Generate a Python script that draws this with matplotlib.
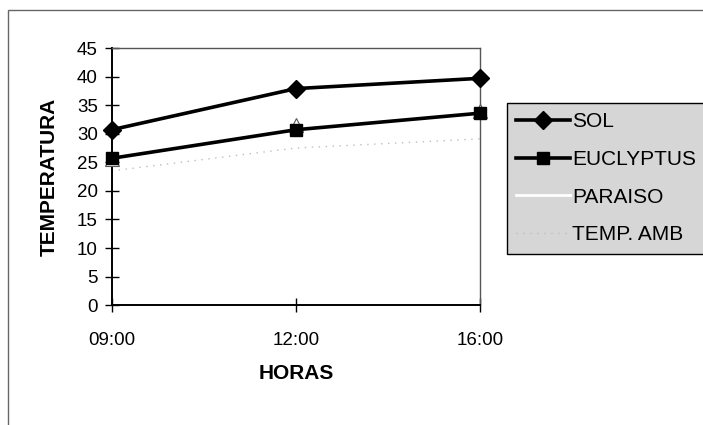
import matplotlib.pyplot as plt
from matplotlib.lines import Line2D

# data
horas = ['09:00', '12:00', '16:00']
sol = [30.7, 37.9, 39.7]
euclyptus = [25.7, 30.7, 33.6]
paraiso = [25.5, 31.6, 34.0]
temp_amb = [23.5, 27.5, 29.1]

plt.rcParams['font.family'] = ['Liberation Sans', 'DejaVu Sans']

fig = plt.figure(figsize=(7.03, 4.25), dpi=100)
ax = fig.add_axes([0.159, 0.282, 0.524, 0.605])

x = range(len(horas))
ax.plot(x, sol, color='black', lw=2.6, marker='D', ms=9, label='SOL', zorder=5, clip_on=False)
ax.plot(x, euclyptus, color='black', lw=2.6, marker='s', ms=9, label='EUCLYPTUS', zorder=4, clip_on=False)
ax.plot(x, paraiso, color='white', lw=2.0, marker='^', ms=10, mfc='white', mec='#555555', mew=0.8,
        label='PARAISO', zorder=3, clip_on=False)
ax.plot(x, temp_amb, color='#bdbdbd', lw=1.0, ls=(0, (1, 4)), label='TEMP. AMB', zorder=2, clip_on=False)

ax.set_xlim(0, 2)
ax.set_ylim(0, 45)
ax.set_xticks(list(x))
ax.set_xticklabels(horas)
ax.set_yticks(range(0, 50, 5))
ax.tick_params(axis='both', direction='inout', length=10, width=1, labelsize=13.5)
ax.tick_params(axis='x', pad=14)
ax.tick_params(axis='y', pad=5)

for side in ['left', 'bottom']:
    ax.spines[side].set_color('black')
    ax.spines[side].set_linewidth(1.4)
for side in ['top', 'right']:
    ax.spines[side].set_color('#555555')
    ax.spines[side].set_linewidth(1.0)
    ax.spines[side].set_linestyle((0, (2, 1)))

ax.set_xlabel('HORAS', fontsize=15, fontweight='bold', labelpad=11)
ax.set_ylabel('TEMPERATURA', fontsize=15, fontweight='bold', labelpad=13)

# paraiso line is white, so its legend key disappears on the grey box
handles, labels = ax.get_legend_handles_labels()
handles[2] = Line2D([], [], color='white', lw=2)
leg = fig.legend(handles, labels, loc='upper left', bbox_to_anchor=(0.721, 0.758), fontsize=15,
                 handlelength=2.6, handletextpad=0.1, labelspacing=0.9,
                 borderpad=0.45, borderaxespad=0, fancybox=False, framealpha=1)
leg.get_frame().set_facecolor('#d6d6d6')
leg.get_frame().set_edgecolor('black')
leg.get_frame().set_linewidth(1.0)

# outer chart border
fig.patches.append(plt.Rectangle((0.012, -0.01), 1.0, 0.987, transform=fig.transFigure,
                                 fill=False, edgecolor='#666666', lw=1.0))

fig.savefig('out.png', dpi=100)
